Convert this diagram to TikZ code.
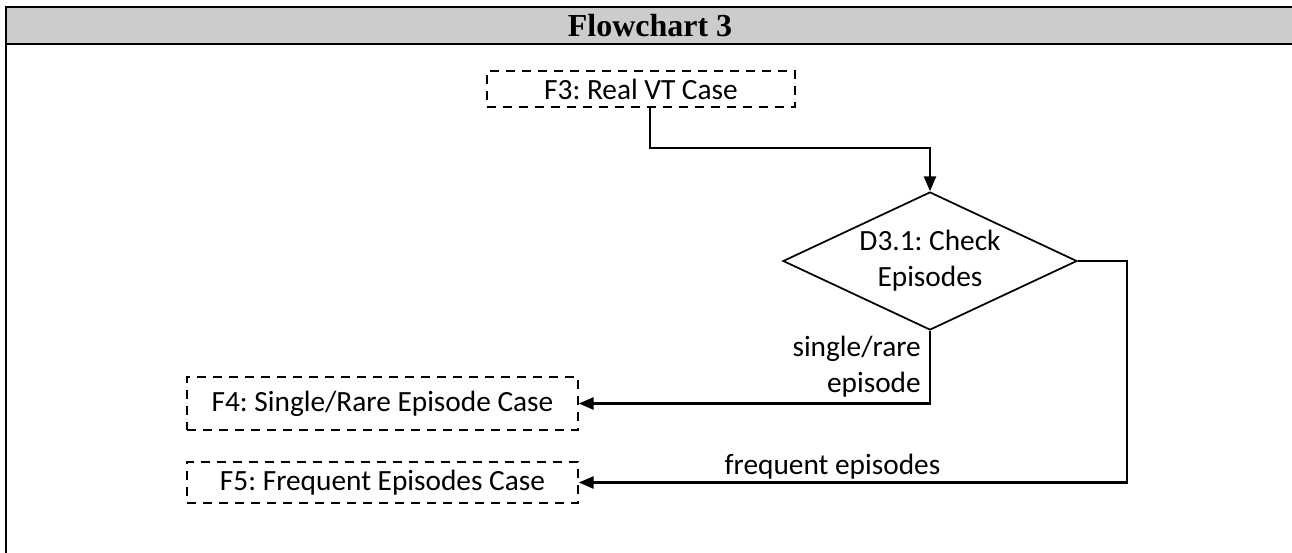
\documentclass[tikz,border=0pt]{standalone}
\usepackage{fontspec}
\setmainfont{Carlito}
\newfontfamily\titlefont{Liberation Serif}
\usetikzlibrary{shapes.geometric,arrows.meta}
\frenchspacing

\begin{document}
\begin{tikzpicture}[x=0.75pt,y=-0.75pt,
  frameline/.style={line width=1.7pt},
  bodytext/.style={font=\fontsize{22}{27}\selectfont},
  casebox/.style={draw, line width=1.5pt, dash pattern=on 6.5pt off 5.5pt,
    inner sep=0pt, bodytext},
  decision/.style={draw, diamond, line width=1.3pt, inner sep=0pt},
  conn/.style={line width=1.6pt, -{Triangle[length=11pt,width=9pt]}},
  edgelabel/.style={bodytext, inner sep=0pt}
]
\useasboundingbox (0,0) rectangle (1292,553);

% title bar and frame
\fill[gray!40] (6,7) rectangle (1292,44);
\draw[frameline] (1292,7) -- (6,7) -- (6,553);
\draw[frameline] (6,44) -- (1292,44);
\node[font=\titlefont\bfseries\fontsize{24}{28}\selectfont] (title) at (650,26) {Flowchart 3};

% flowchart nodes
\node[casebox, minimum width=231pt, minimum height=27pt] (f3) at (641,89) {F3: Real VT Case};
\node[decision, minimum width=220.5pt, minimum height=103.5pt,
  label={[bodytext, align=center]center:D3.1: Check\\Episodes}] (d31) at (930,261) {};
\node[casebox, minimum width=293pt, minimum height=40pt] (f4) at (382.5,403.5) {F4: Single/Rare Episode Case};
\node[casebox, minimum width=293pt, minimum height=31pt] (f5) at (382.5,482.5) {F5: Frequent Episodes Case};

% bends
\coordinate (j1) at (650,148);
\coordinate (j2) at (1127,482.5);

% connectors
\draw[conn] (f3.south -| j1) -- (j1) -| (d31.north);
\draw[conn] (d31.south) |- (f4.east);
\draw[conn] (d31.east) -| (j2) -- (f5.east);

% branch labels
\node[edgelabel, align=right, anchor=east] (lrare) at (921,366.5) {single/rare\\episode};
\node[edgelabel] (lfreq) at (832.5,467) {frequent episodes};
\end{tikzpicture}
\end{document}
